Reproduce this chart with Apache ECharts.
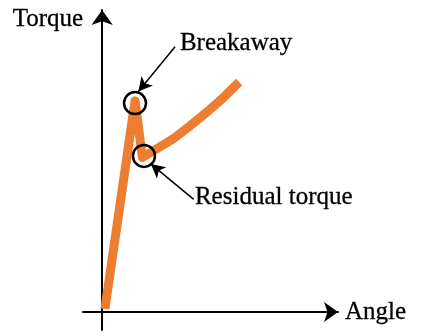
<!DOCTYPE html>
<html>
<head>
<meta charset="utf-8">
<script src="https://cdn.jsdelivr.net/npm/echarts@6/dist/echarts.min.js"></script>
<style>
html,body{margin:0;padding:0;background:#fff;}
#chart{width:441px;height:336px;}
</style>
</head>
<body>
<div id="chart"></div>
<script>
// Curve (arbitrary units)
const angle  = [1.1, 12.9, 15.8, 27.8, 34.5, 41.1, 47.4, 53.7];
const torque = [1.0, 66.0, 48.3, 54.1, 58.2, 62.5, 66.9, 71.9];

// Marked points (circles)
const markNames  = ['Breakaway', 'Residual torque'];
const markAngle  = [12.9, 16.4];
const markTorque = [65.3, 48.8];

// Annotation text anchors and arrow tails
const labelAngle  = [30.5, 36.4];
const labelTorque = [84.1, 35.7];
const arrowTail   = [[28.6, 82.9], [35.9, 35.2]];
const arrowTip    = [[14.2, 68.9], [19.1, 46.3]];

const axisNames = ['Angle', 'Torque'];

const font = 'Liberation Serif';
const textBase = {fontFamily: font, fontSize: 25, color: '#000', textBorderColor: '#000', textBorderWidth: 0.3};
const chart = echarts.init(document.getElementById('chart'), null, {renderer: 'canvas'});

const curve = angle.map((a, i) => [a, torque[i]]);
const marks = markAngle.map((a, i) => [a, markTorque[i]]);
const labels = labelAngle.map((a, i) => ({value: [a, labelTorque[i]], name: markNames[i]}));
const arrows = arrowTail.map((t, i) => [{coord: t}, {coord: arrowTip[i]}]);

chart.setOption({
  animation: false,
  backgroundColor: '#fff',
  grid: {left: 83, right: 103, top: 10, bottom: 6, containLabel: false},
  xAxis: {
    type: 'value', min: -7.5, max: 92.5,
    name: axisNames[0], nameLocation: 'end', nameGap: 7,
    nameTextStyle: Object.assign({}, textBase, {verticalAlign: 'middle', padding: [0, 0, 28, 0]}),
    axisLine: {show: true, onZero: true, symbol: ['none', 'arrow'], symbolSize: [15, 14], lineStyle: {color: '#000', width: 2}},
    axisTick: {show: false}, axisLabel: {show: false}, splitLine: {show: false}
  },
  yAxis: {
    type: 'value', min: -5.6, max: 94.4,
    name: axisNames[1], nameLocation: 'end', nameGap: -9,
    nameTextStyle: Object.assign({}, textBase, {align: 'right', verticalAlign: 'middle', padding: [14, 19, 0, 0]}),
    axisLine: {show: true, onZero: true, symbol: ['none', 'arrow'], symbolSize: [16, 15], lineStyle: {color: '#000', width: 2}},
    axisTick: {show: false}, axisLabel: {show: false}, splitLine: {show: false}
  },
  series: [
    {
      type: 'line', data: curve, showSymbol: false, symbol: 'none',
      lineStyle: {color: '#ED7D31', width: 9, cap: 'butt', join: 'round', opacity: 1},
      silent: true, z: 2
    },
    {
      type: 'scatter', data: marks, symbol: 'circle', symbolSize: 22,
      itemStyle: {color: 'rgba(0,0,0,0)', borderColor: '#000', borderWidth: 2.5, opacity: 1},
      silent: true, z: 3,
      markLine: {
        silent: true, animation: false,
        symbol: ['none', 'arrow'], symbolSize: [11, 14],
        label: {show: false},
        lineStyle: {color: '#000', width: 1.5, type: 'solid', opacity: 1},
        emphasis: {disabled: true},
        data: arrows
      }
    },
    {
      type: 'scatter', data: labels, symbolSize: 0, silent: true, z: 4,
      itemStyle: {opacity: 1},
      label: Object.assign({show: true, position: 'right', distance: 0, formatter: p => p.name}, textBase)
    }
  ]
});
</script>
</body>
</html>
